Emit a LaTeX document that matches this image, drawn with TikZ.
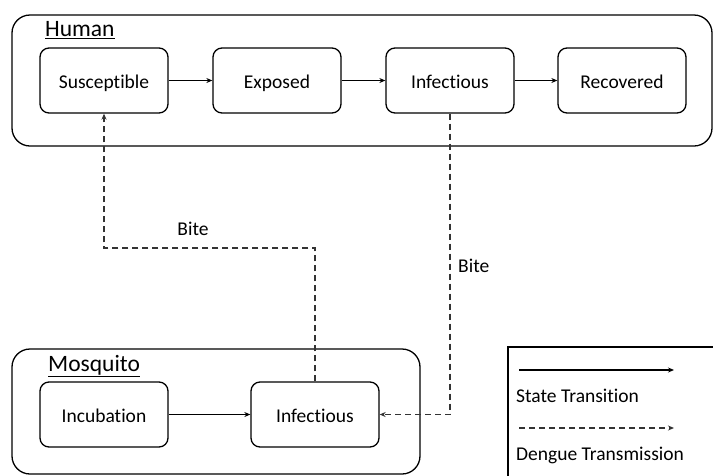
\documentclass[tikz,border=0pt]{standalone}
\usepackage{fontspec}
\setmainfont{Carlito}[Ligatures={NoCommon}]
\usetikzlibrary{arrows.meta}
\begin{document}
\begin{tikzpicture}[x=1pt,y=-1pt,
  state/.style={draw, line width=1.3pt, rounded corners=9pt, minimum width=128pt, minimum height=65pt, font=\fontsize{19.5}{22}\selectfont, inner sep=0pt, text height=16pt, text depth=0pt},
  group/.style={draw, line width=1.3pt, rounded corners=18pt},
  trans/.style={-{Stealth[length=6pt,width=5pt]}, line width=1.1pt},
  dengue/.style={-{Stealth[length=6pt,width=5pt]}, line width=1.3pt, dash pattern=on 6pt off 4pt, draw=black!80},
  title/.style={font=\fontsize{23.5}{26}\selectfont, anchor=west, inner sep=0pt},
  lbl/.style={font=\fontsize{19.5}{22}\selectfont, inner sep=0pt}
]
\useasboundingbox (0,0) rectangle (713,475);
% containers
\draw[group] (12,15) rectangle (712,146);
\draw[group] (12,349) rectangle (420,474);
\node[title] (htitle) at (45,30) {\underline{Human}};
\node[title] (mtitle) at (48,366) {\underline{Mosquito}};
% human states
\node[state] (S) at (104,80.5) {Susceptible};
\node[state] (E) at (277,80.5) {Exposed};
\node[state] (I) at (450,80.5) {Infectious};
\node[state] (R) at (622,80.5) {Recovered};
% mosquito states
\node[state] (MU) at (104,414.5) {Incubation};
\node[state] (MI) at (315,414.5) {Infectious};
% transitions
\draw[trans] (S) -- (E);
\draw[trans] (E) -- (I);
\draw[trans] (I) -- (R);
\draw[trans] (MU) -- (MI);
% dengue transmission
\coordinate (c1) at (315,248);
\coordinate (c2) at (104,248);
\draw[dengue] (MI.north) -- (c1) -- (c2) -- (S.south);
\coordinate (c3) at (450,414.5);
\draw[dengue] (I.south) -- (c3) -- (MI.east);
\node[lbl] (b1) at (193,229) {Bite};
\node[lbl, anchor=west] (b2) at (458,266) {Bite};
% legend
\draw[line width=1.3pt] (508,347) rectangle (730,490);
\coordinate (l1a) at (519,370);
\coordinate (l1b) at (674,370);
\draw[trans] (l1a) -- (l1b);
\node[lbl, anchor=west] (lt1) at (516,396) {State Transition};
\coordinate (l2a) at (519,428);
\coordinate (l2b) at (674,428);
\draw[dengue] (l2a) -- (l2b);
\node[lbl, anchor=west] (lt2) at (516,455) {Dengue Transmission};
\end{tikzpicture}
\end{document}
